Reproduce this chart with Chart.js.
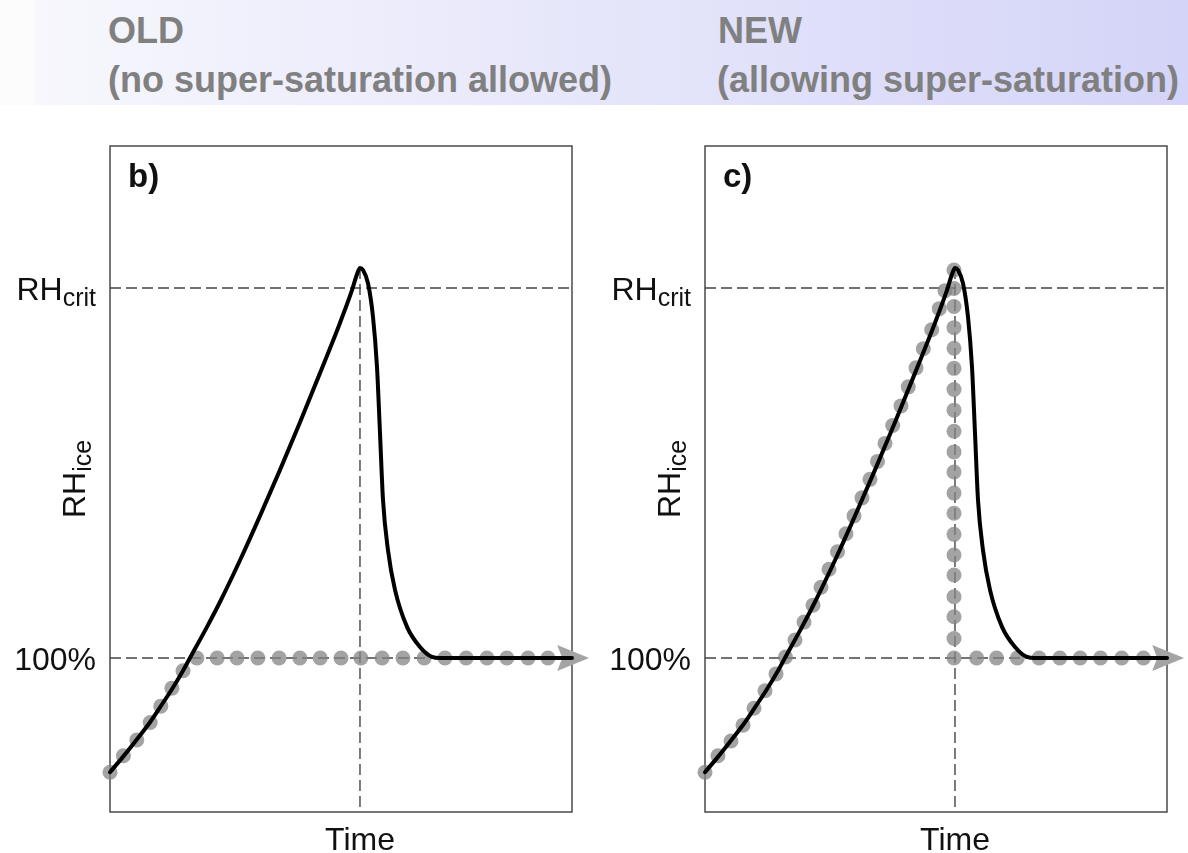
<!DOCTYPE html>
<html>
<head>
<meta charset="utf-8">
<title>RHice: old vs new cloud scheme</title>
<script src="https://cdn.jsdelivr.net/npm/chart.js@4.4.1/dist/chart.umd.min.js"></script>
<style>
  html, body { margin:0; padding:0; background:#fff; }
  body { width:1188px; height:853px; position:relative; overflow:hidden; font-family:"Liberation Sans", Arial, sans-serif; }
  .band { position:absolute; left:0; top:0; width:1188px; height:105px;
    background:linear-gradient(to right, #fcfcfd 0, #fcfcfd 35px, #f7f7fd 35px, #d4d4f8 100%); }
  .head { position:absolute; color:#808080; font-weight:bold; font-size:36px; line-height:36px; white-space:nowrap; }
  canvas { position:absolute; top:106px; }
</style>
</head>
<body>
<div class="band"></div>
<div class="head" style="left:108px; top:13px;">OLD</div>
<div class="head" style="left:108px; top:62px;">(no super-saturation allowed)</div>
<div class="head" style="left:718px; top:13px;">NEW</div>
<div class="head" style="left:717px; top:62px;">(allowing super-saturation)</div>
<canvas id="old" width="594" height="747" style="left:0"></canvas>
<canvas id="new" width="594" height="747" style="left:594px"></canvas>
<script>
(() => {
  // time runs 0..100 across the frame, RH in percent
  const TIME_RANGE = [0, 100];
  const RH_RANGE = [70.87, 196.87];

  // RH_ice trajectory: rises, peaks just above RH_crit, relaxes to 100 %
  const TIME_CURVE = [0, 2.8, 5.8, 8.7, 11.0, 13.4, 15.8, 17.3, 21.0, 23.8, 28.14, 32.47, 36.8, 41.13, 45.45, 49.78,
    52.38, 53.46, 54.11, 54.76, 55.84, 56.93, 57.79, 58.44, 59.09, 60.17, 61.69, 64.29, 67.1, 69.7, 71.43, 100];
  const RH_CURVE = [78.4, 81.3, 84.6, 87.9, 90.9, 94.1, 97.6, 100, 105.9, 110.6, 118.5, 126.9, 135.6, 144.6, 153.9, 163.4,
    169.6, 172.6, 173.8, 173.4, 170.9, 164.5, 155.1, 142.6, 129.9, 120.4, 112.9, 105.9, 102.1, 100.2, 100, 100];

  // old scheme: clipped at saturation
  const TIME_DOTS_OLD = [0, 2.9, 5.8, 8.7, 11.0, 13.4, 15.8,
    18.8, 23.2, 27.5, 32.0, 36.6, 41.1, 45.5, 50.0, 54.3, 58.9, 63.4, 68.0, 72.5, 77.1, 81.6, 85.9, 90.5, 94.8];
  const RH_DOTS_OLD = [78.4, 81.5, 84.5, 87.8, 90.9, 94.3, 97.6,
    100, 100, 100, 100, 100, 100, 100, 100, 100, 100, 100, 100, 100, 100, 100, 100, 100, 100];

  // new scheme: follows the rise to RH_crit, then drops to saturation
  const TIME_DOTS_NEW = [0, 2.81, 5.63, 8.23, 10.61, 12.99, 15.37, 17.42, 19.48, 21.43, 23.38, 25.11, 26.84, 28.68,
    30.52, 32.25, 33.98, 35.71, 37.34, 38.96, 40.63, 42.42, 44.0, 45.67, 47.25, 49.07, 50.71, 51.95, 53.9,
    53.9, 53.9, 53.9, 53.9, 53.9, 53.9, 53.9, 53.9, 53.9, 53.9, 53.9, 53.9, 53.9, 53.9, 53.9, 53.9, 53.9, 53.9, 53.9,
    58.8, 63.1, 67.6, 72.3, 76.8, 81.2, 85.6, 90.2, 94.9];
  const RH_DOTS_NEW = [78.4, 81.5, 84.3, 87.3, 90.5, 93.8, 97.0, 100.2, 103.4, 106.8, 110.0, 113.4, 116.8, 120.1,
    123.5, 126.9, 130.3, 133.8, 137.2, 140.6, 144.0, 147.7, 151.3, 154.9, 158.5, 162.1, 166.1, 169.5, 173.4,
    169.9, 166.5, 162.5, 158.6, 154.8, 150.8, 146.9, 142.9, 139.0, 135.2, 131.2, 127.4, 123.4, 119.5, 115.7, 111.6, 107.8, 103.7, 100,
    100, 100, 100, 100, 100, 100, 100, 100, 100];

  const ARROW_TIME = [96.8, 103.7];   // base, tip
  const RH_TICKS = [100, 170];
  const RH_TICK_LABELS = [['100%', ''], ['RH', 'crit']];
  const Y_TITLE = ['RH', 'ice'];
  const X_TITLE = 'Time';

  const FONT = '"Liberation Sans", Arial, Helvetica, sans-serif';
  const pairs = (xs, ys) => xs.map((x, i) => ({x, y: ys[i]}));
  const peakIndex = () => RH_CURVE.indexOf(Math.max(...RH_CURVE));

  function widths(ctx, main, sub) {
    ctx.font = '32px ' + FONT;
    const w1 = ctx.measureText(main).width;
    ctx.font = '25px ' + FONT;
    const w2 = sub ? ctx.measureText(sub).width : 0;
    return [w1, w2];
  }
  function subText(ctx, main, sub, x, y, w1) {
    ctx.font = '32px ' + FONT;
    ctx.fillText(main, x, y);
    if (sub) { ctx.font = '25px ' + FONT; ctx.fillText(sub, x + w1, y + 6); }
  }

  const decor = {
    id: 'decor',
    beforeDatasetsDraw(chart) {
      const {ctx, chartArea: a, scales: {x, y}} = chart;
      ctx.save();
      ctx.strokeStyle = '#4a4a4a';
      ctx.lineWidth = 1.5;
      ctx.strokeRect(a.left, a.top, a.width, a.height);

      ctx.setLineDash([11, 5]);
      ctx.lineWidth = 1.4;
      ctx.strokeStyle = '#444';
      RH_TICKS.forEach(v => {
        const py = y.getPixelForValue(v);
        ctx.beginPath(); ctx.moveTo(a.left, py); ctx.lineTo(a.right, py); ctx.stroke();
      });
      const iPeak = peakIndex();
      const px = x.getPixelForValue(TIME_CURVE[iPeak]);
      ctx.beginPath(); ctx.moveTo(px, y.getPixelForValue(RH_CURVE[iPeak])); ctx.lineTo(px, a.bottom); ctx.stroke();
      ctx.setLineDash([]);

      // arrow head at the end of the dotted row
      const ay = y.getPixelForValue(100);
      const bx = x.getPixelForValue(ARROW_TIME[0]);
      ctx.fillStyle = '#a4a4a4';
      ctx.beginPath();
      ctx.moveTo(x.getPixelForValue(ARROW_TIME[1]), ay);
      ctx.lineTo(bx, ay - 13);
      ctx.lineTo(bx + 5, ay);
      ctx.lineTo(bx, ay + 13);
      ctx.closePath();
      ctx.fill();
      ctx.restore();
    },
    afterDraw(chart, args, opts) {
      const {ctx, chartArea: a, scales: {x, y}} = chart;
      ctx.save();
      ctx.fillStyle = '#111';
      ctx.textBaseline = 'alphabetic';
      ctx.textAlign = 'left';

      RH_TICKS.forEach((v, i) => {
        const [main, sub] = RH_TICK_LABELS[i];
        const [w1, w2] = widths(ctx, main, sub);
        subText(ctx, main, sub, a.left - 14 - w1 - w2, y.getPixelForValue(v) + 12, w1);
      });

      // rotated y title
      const [t1, t2] = widths(ctx, Y_TITLE[0], Y_TITLE[1]);
      ctx.save();
      ctx.translate(a.left - 25, (a.top + a.bottom) / 2);
      ctx.rotate(-Math.PI / 2);
      subText(ctx, Y_TITLE[0], Y_TITLE[1], -(t1 + t2) / 2, 0, t1);
      ctx.restore();

      ctx.font = '32px ' + FONT;
      ctx.textAlign = 'center';
      ctx.fillText(X_TITLE, x.getPixelForValue(TIME_CURVE[peakIndex()]), a.bottom + 38);

      ctx.textAlign = 'left';
      ctx.font = 'bold 33px ' + FONT;
      ctx.fillText(opts.letter, a.left + 18, a.top + 41);
      ctx.restore();
    }
  };

  function makePanel(id, letter, padLeft, padRight, tDots, rhDots) {
    return new Chart(document.getElementById(id), {
      type: 'line',
      data: {
        datasets: [
          { data: pairs(TIME_CURVE, RH_CURVE), borderColor: '#000', borderWidth: 4, pointRadius: 0,
            cubicInterpolationMode: 'monotone', borderCapStyle: 'round', borderJoinStyle: 'round', clip: false },
          { data: pairs(tDots, rhDots), showLine: false, pointRadius: 7.5, pointBorderWidth: 0,
            pointBackgroundColor: 'rgba(132,132,132,0.75)', clip: false }
        ]
      },
      options: {
        responsive: false,
        animation: false,
        events: [],
        layout: { padding: { left: padLeft, right: padRight, top: 40, bottom: 41 } },
        scales: {
          x: { type: 'linear', min: TIME_RANGE[0], max: TIME_RANGE[1], display: false },
          y: { type: 'linear', min: RH_RANGE[0], max: RH_RANGE[1], display: false }
        },
        plugins: { legend: { display: false }, tooltip: { enabled: false }, decor: { letter } }
      },
      plugins: [decor]
    });
  }

  makePanel('old', 'b)', 110, 22, TIME_DOTS_OLD, RH_DOTS_OLD);
  makePanel('new', 'c)', 111, 21, TIME_DOTS_NEW, RH_DOTS_NEW);
})();
</script>
</body>
</html>
